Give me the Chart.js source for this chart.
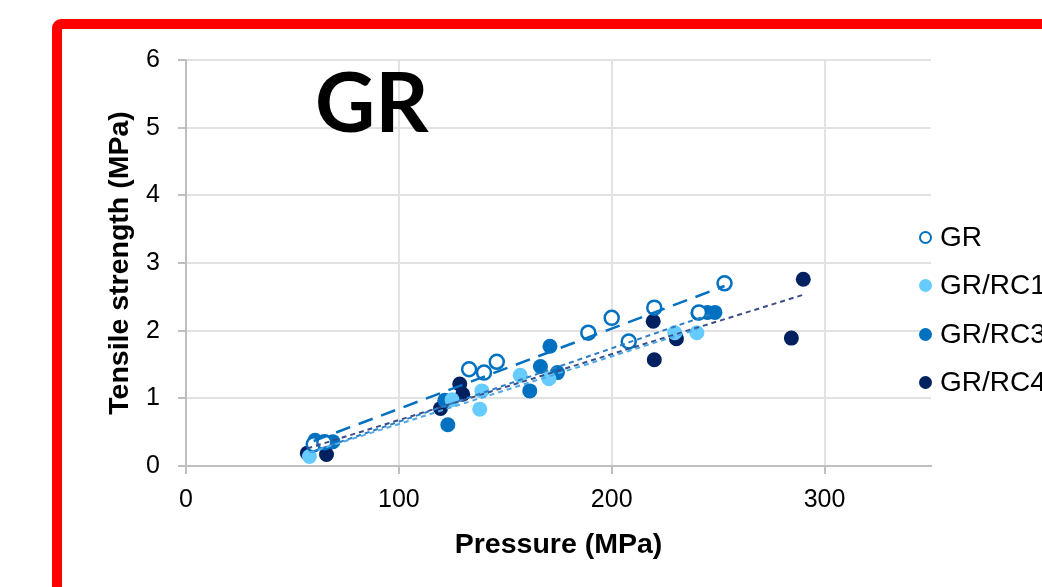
<!DOCTYPE html>
<html>
<head>
<meta charset="utf-8">
<script src="https://cdn.jsdelivr.net/npm/chart.js@4"></script>
<style>
  body { margin: 0; width: 1042px; height: 587px; overflow: hidden; position: relative; background: #fff; font-family: "Liberation Sans", Arial, sans-serif; }
  #frame { position: absolute; left: 52px; top: 19px; width: 1200px; height: 800px; border: 10px solid #ff0000; border-radius: 9px; box-sizing: border-box; }
  #wrap { position: absolute; left: 0; top: 0; width: 1042px; height: 587px; }
  #big { position: absolute; left: 315px; top: 59px; font: bold 83px/83px Lato, "Open Sans", sans-serif; color: #000; white-space: nowrap; }
  .row { position: absolute; left: 919px; height: 40px; display: flex; align-items: center; font-size: 28px; color: #000; white-space: nowrap; }
  .mk { width: 13px; height: 13px; border-radius: 50%; margin-right: 8px; box-sizing: border-box; }
</style>
</head>
<body>
<div id="frame"></div>
<div id="wrap"><canvas id="c" width="1042" height="587"></canvas></div>
<div id="big">GR</div>
<div id="legend"></div>
<script>
const xTicks = [0, 100, 200, 300];
const yTicks = [0, 1, 2, 3, 4, 5, 6];
const seriesNames = ['GR', 'GR/RC1', 'GR/RC3', 'GR/RC4'];
const seriesColors = ['#0070C0', '#66CCFF', '#0070C0', '#002060'];

// GR (open markers)
const grX = [60, 65, 133, 140, 146, 189, 200, 208, 220, 241, 253];
const grY = [0.32, 0.35, 1.43, 1.38, 1.54, 1.97, 2.19, 1.84, 2.34, 2.27, 2.70];
// GR/RC1
const rc1X = [58, 125, 138, 139, 157, 170.5, 229.6, 240];
const rc1Y = [0.14, 0.98, 0.84, 1.11, 1.34, 1.29, 1.97, 1.97];
// GR/RC3
const rc3X = [60.6, 69, 121.6, 123, 161.5, 166.5, 171, 174.5, 240.5, 245, 248.5];
const rc3Y = [0.38, 0.36, 0.97, 0.61, 1.11, 1.47, 1.77, 1.38, 2.26, 2.27, 2.27];
// GR/RC4
const rc4X = [57, 66, 119.6, 128.6, 130, 219.5, 220, 230.4, 284.4, 290];
const rc4Y = [0.19, 0.17, 0.85, 1.21, 1.06, 2.14, 1.57, 1.88, 1.89, 2.76];

// trend lines (end points)
const grTrendX = [60, 253];
const grTrendY = [0.37, 2.66];
const rc1TrendX = [58, 240];
const rc1TrendY = [0.2, 2.02];
const rc3TrendX = [60, 248];
const rc3TrendY = [0.22, 2.26];
const rc4TrendX = [57, 291];
const rc4TrendY = [0.26, 2.54];

const pts = (xs, ys) => xs.map((x, i) => ({ x: x, y: ys[i] }));

function markerSet(label, xs, ys, color, open) {
  return {
    type: 'scatter',
    label: label,
    data: pts(xs, ys),
    order: 2,
    pointRadius: open ? 7 : 7.5,
    pointBorderWidth: open ? 2.5 : 0,
    pointBackgroundColor: open ? '#ffffff' : color,
    pointBorderColor: color,
    showLine: false
  };
}

function trendSet(xs, ys, color, dash, width) {
  return {
    type: 'line',
    label: 'trend',
    data: pts(xs, ys),
    order: 1,
    borderColor: color,
    borderWidth: width,
    borderDash: dash,
    pointRadius: 0,
    fill: false
  };
}

const gridColor = '#E2E2E2';
const axisColor = '#BFBFBF';

new Chart(document.getElementById('c'), {
  type: 'scatter',
  data: {
    datasets: [
      markerSet(seriesNames[0], grX, grY, seriesColors[0], true),
      markerSet(seriesNames[1], rc1X, rc1Y, seriesColors[1], false),
      markerSet(seriesNames[2], rc3X, rc3Y, seriesColors[2], false),
      markerSet(seriesNames[3], rc4X, rc4Y, seriesColors[3], false),
      trendSet(grTrendX, grTrendY, '#0070C0', [15, 9], 2.5),
      trendSet(rc1TrendX, rc1TrendY, '#4FA9E6', [5, 4], 2),
      trendSet(rc3TrendX, rc3TrendY, '#2C7FC6', [5, 4], 2),
      trendSet(rc4TrendX, rc4TrendY, '#3A4F85', [5, 4], 2)
    ]
  },
  options: {
    responsive: false,
    animation: false,
    devicePixelRatio: 1,
    layout: { padding: { left: 99, top: 60, right: 111, bottom: 21 } },
    plugins: { legend: { display: false }, tooltip: { enabled: false } },
    scales: {
      x: {
        type: 'linear',
        min: 0,
        max: 350,
        afterBuildTicks: s => { s.ticks = xTicks.map(v => ({ value: v })); },
        afterFit: s => { s.height = 100; },
        grid: { color: gridColor, lineWidth: 2, tickLength: 8, tickColor: axisColor },
        border: { color: axisColor, width: 2 },
        ticks: { color: '#000', padding: 11, font: { size: 25, family: '"Liberation Sans", Arial' } },
        title: { display: true, text: 'Pressure (MPa)', color: '#000', font: { size: 28.5, weight: 'bold', family: '"Liberation Sans", Arial' } }
      },
      y: {
        type: 'linear',
        min: 0,
        max: 6,
        afterBuildTicks: s => { s.ticks = yTicks.map(v => ({ value: v })); },
        afterFit: s => { s.width = 87; },
        grid: { color: gridColor, lineWidth: 2, tickLength: 8, tickColor: axisColor },
        border: { color: axisColor, width: 2 },
        ticks: { color: '#000', padding: 18, font: { size: 25, family: '"Liberation Sans", Arial' } },
        title: { display: true, text: 'Tensile strength (MPa)', color: '#000', font: { size: 28.5, weight: 'bold', family: '"Liberation Sans", Arial' } }
      }
    }
  }
});

// legend (HTML, right side)
const legendRows = [237, 285, 334, 382];
const legend = document.getElementById('legend');
seriesNames.forEach((name, i) => {
  const row = document.createElement('div');
  row.className = 'row';
  row.style.top = (legendRows[i] - 20) + 'px';
  const mk = document.createElement('span');
  mk.className = 'mk';
  if (i === 0) {
    mk.style.border = '2.5px solid ' + seriesColors[i];
    mk.style.background = '#fff';
  } else {
    mk.style.background = seriesColors[i];
  }
  row.appendChild(mk);
  row.appendChild(document.createTextNode(name));
  legend.appendChild(row);
});
</script>
</body>
</html>
